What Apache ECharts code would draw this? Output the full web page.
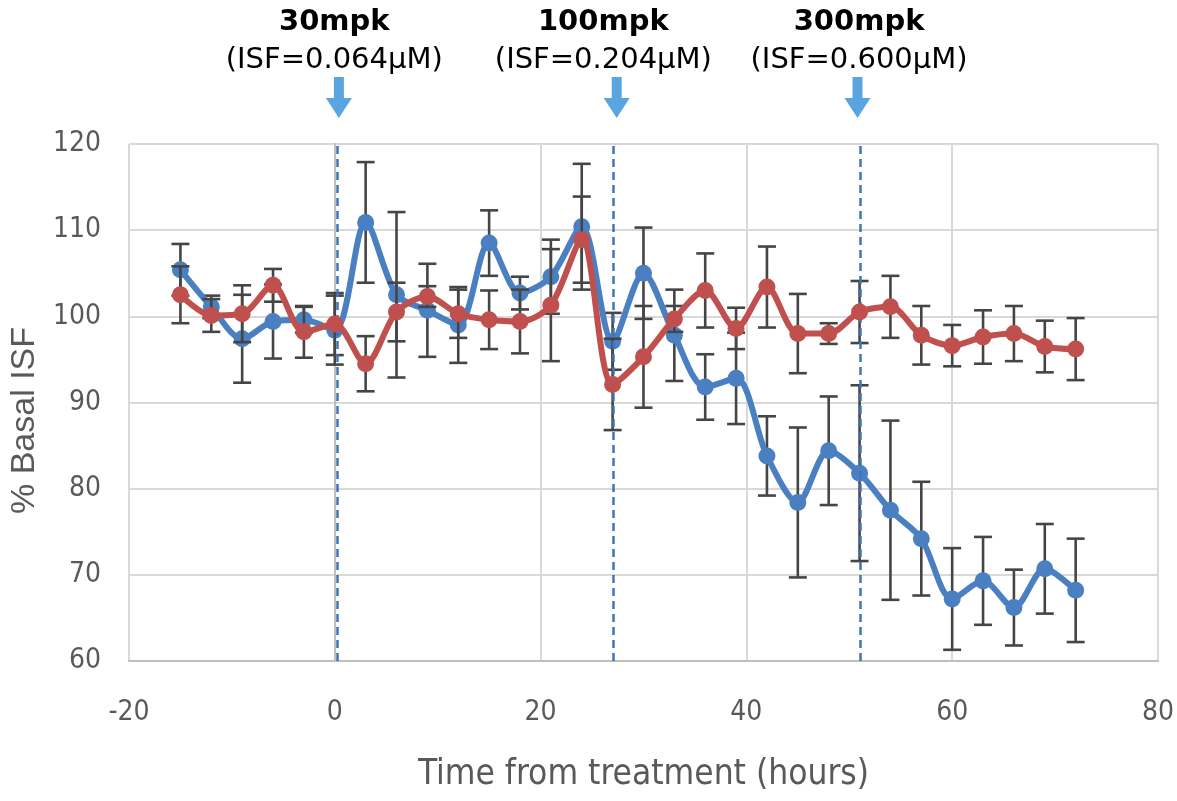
<!DOCTYPE html>
<html><head><meta charset="utf-8">
<script src="https://cdn.jsdelivr.net/npm/echarts@6/dist/echarts.min.js"></script>
<style>html,body{margin:0;padding:0;background:#fff}#c{width:1177px;height:801px}</style>
</head><body><div id="c"></div>
<script>
// ---- data ----
const hours    = [-15,-12,-9,-6,-3,0,3,6,9,12,15,18,21,24,27,30,33,36,39,42,45,48,51,54,57,60,63,66,69,72];
const blueMean = [105.4,101.1,97.4,99.4,99.6,98.4,110.9,102.5,100.7,99.0,108.5,102.7,104.6,110.4,97.1,105.0,97.8,91.8,92.8,83.8,78.4,84.4,81.8,77.5,74.2,67.2,69.3,66.2,70.7,68.2];
const blueErr  = [3.0,1.3,5.1,4.3,1.5,4.0,7.0,9.6,5.4,4.4,3.8,1.9,4.3,7.3,3.3,5.3,5.3,3.8,5.3,4.6,8.7,6.3,10.2,10.4,6.6,5.9,5.1,4.4,5.2,6.0];
const redMean  = [102.5,100.1,100.3,103.6,98.2,99.1,94.5,100.5,102.3,100.3,99.6,99.4,101.3,108.9,92.1,95.3,99.7,103.0,98.6,103.4,98.0,98.0,100.5,101.1,97.8,96.6,97.6,98.0,96.5,96.2];
const redErr   = [3.3,1.9,3.3,1.9,3.0,3.6,3.2,3.4,1.2,2.8,3.4,3.7,6.5,5.0,5.3,5.9,1.5,4.3,2.4,4.7,4.6,1.2,3.6,3.6,3.4,2.4,3.1,3.2,3.0,3.6];
const xMin = -20, xMax = 80, xStep = 20;
const yMin = 60, yMax = 120, yStep = 10;
const doseNames = ['30mpk','100mpk','300mpk'];
const doseConc  = ['(ISF=0.064\u03bcM)','(ISF=0.204\u03bcM)','(ISF=0.600\u03bcM)'];
const doseLineX  = [0.25, 27.1, 51.1];
const doseArrowX = [0.4, 27.4, 50.8];
const doseLabelX = [-0.05, 26.1, 50.95];

const BLUE = '#4a80c2', RED = '#c0504d', ERR = '#454545';
const tickFont = '"DejaVu Sans Condensed","Liberation Sans",sans-serif';

function pts(m){ return hours.map((h,i)=>[h,m[i]]); }
function errData(m,e){ return hours.map((h,i)=>[h,m[i],e[i]]); }
function errRender(params, api){
  const x = api.value(0), y = api.value(1), e = api.value(2);
  const t = api.coord([x, y+e]), b = api.coord([x, y-e]);
  const hw = 9, st = {stroke: ERR, lineWidth: 2.6};
  return {type:'group', children:[
    {type:'line', shape:{x1:t[0],y1:t[1],x2:b[0],y2:b[1]}, style:st},
    {type:'line', shape:{x1:t[0]-hw,y1:t[1],x2:t[0]+hw,y2:t[1]}, style:st},
    {type:'line', shape:{x1:b[0]-hw,y1:b[1],x2:b[0]+hw,y2:b[1]}, style:st}
  ]};
}

const chart = echarts.init(document.getElementById('c'), null, {renderer:'canvas'});
const option = {
  animation:false,
  backgroundColor:'#fff',
  grid:{left:128,right:16,top:144,bottom:140},
  xAxis:{type:'value',min:xMin,max:xMax,interval:xStep,
    axisLine:{show:true,lineStyle:{color:'#bfbfbf',width:2}},
    axisTick:{show:false},
    splitLine:{show:true,lineStyle:{color:'#d9d9d9',width:2}},
    axisLabel:{margin:38,color:'#595959',fontSize:28,fontFamily:tickFont},
    name:'Time from treatment (hours)',nameLocation:'middle',nameGap:96,
    nameTextStyle:{color:'#595959',fontSize:35,fontFamily:tickFont}},
  yAxis:{type:'value',min:yMin,max:yMax,interval:yStep,
    axisLine:{show:true,lineStyle:{color:'#bfbfbf',width:2}},
    axisTick:{show:false},
    splitLine:{show:true,lineStyle:{color:'#d9d9d9',width:2}},
    axisLabel:{margin:28,color:'#595959',fontSize:28,fontFamily:tickFont},
    name:'% Basal ISF',nameLocation:'middle',nameGap:76,nameRotate:90,
    nameTextStyle:{color:'#595959',fontSize:34,fontFamily:'"Liberation Sans",sans-serif',padding:[0,36,0,0]}},
  series:[
    {type:'custom',name:'blueErr',renderItem:errRender,data:errData(blueMean,blueErr),z:2,encode:{x:0,y:1}},
    {type:'line',name:'blue',data:pts(blueMean),smooth:0.3,symbol:'circle',symbolSize:17,z:3,
      lineStyle:{color:BLUE,width:6},itemStyle:{color:BLUE},
      markLine:{silent:true,symbol:['none','none'],label:{show:false},
        lineStyle:{type:[8,5],color:'#3f74b8',width:2.5},
        data:doseLineX.map(v=>({xAxis:v}))}},
    {type:'custom',name:'redErr',renderItem:errRender,data:errData(redMean,redErr),z:4,encode:{x:0,y:1}},
    {type:'line',name:'red',data:pts(redMean),smooth:0.3,symbol:'circle',symbolSize:17,z:5,
      lineStyle:{color:RED,width:6},itemStyle:{color:RED}}
  ]
};
chart.setOption(option);

const g = [];
doseArrowX.forEach((v,i)=>{
  const p = chart.convertToPixel({gridIndex:0},[v,yMax]);
  const cx = p[0], tip = p[1]-26;
  g.push({type:'polygon',shape:{points:[[cx-5,tip-41],[cx+5,tip-41],[cx+5,tip-20],[cx+13,tip-20],[cx,tip],[cx-13,tip-20],[cx-5,tip-20]]},
    style:{fill:'#5aa5e0'}});
});
doseLabelX.forEach((v,i)=>{
  const p = chart.convertToPixel({gridIndex:0},[v,yMax]);
  g.push({type:'text',x:p[0],y:22,style:{text:doseNames[i],fill:'#000',font:'bold 29px "DejaVu Sans"',align:'center',verticalAlign:'middle'}});
  g.push({type:'text',x:p[0],y:60,style:{text:doseConc[i],fill:'#000',font:'29px "DejaVu Sans"',align:'center',verticalAlign:'middle'}});
});
chart.setOption({graphic:g});
</script></body></html>
